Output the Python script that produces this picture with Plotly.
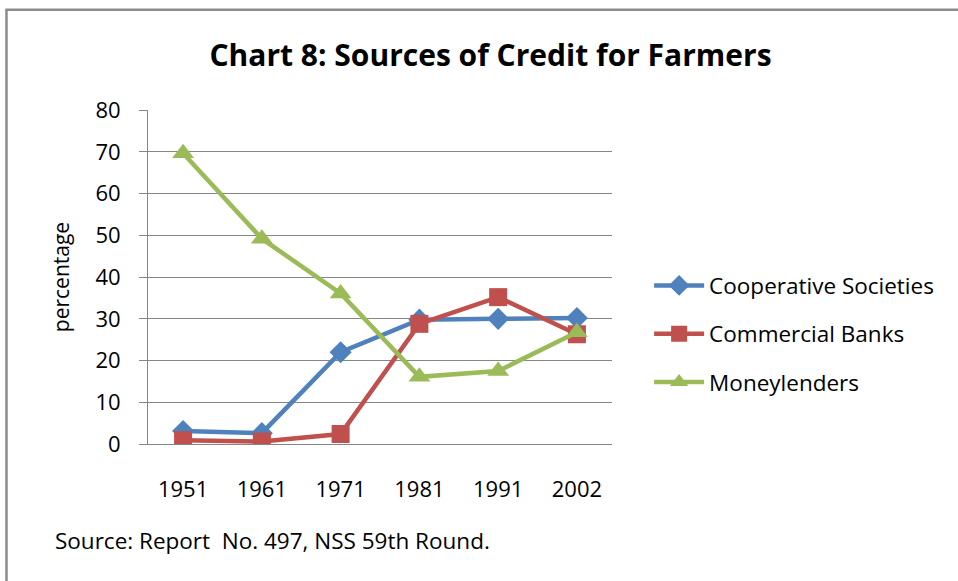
import plotly.graph_objects as go

# data
years = ["1951", "1961", "1971", "1981", "1991", "2002"]
cooperative = [3.1, 2.6, 22.0, 29.8, 30.0, 30.2]
commercial = [0.9, 0.6, 2.4, 28.8, 35.2, 26.3]
moneylenders = [69.7, 49.2, 36.1, 16.1, 17.5, 26.8]

FONT = "Open Sans, Lato, Noto Sans, sans-serif"

series = [
    ("Cooperative Societies", cooperative, "#4F81BD", "diamond", 17),
    ("Commercial Banks", commercial, "#C0504D", "square", 18),
    ("Moneylenders", moneylenders, "#9BBB59", "triangle-up", 19),
]

fig = go.Figure()
for i, (name, vals, color, symbol, size) in enumerate(series):
    fig.add_trace(go.Scatter(
        x=years, y=vals, name=name, mode="lines+markers",
        legendgroup=f"g{i}",
        line=dict(color=color, width=4.5),
        marker=dict(symbol=symbol, size=size, color=color),
    ))

fig.update_layout(
    width=958, height=581,
    margin=dict(l=148, r=346, t=110, b=137),
    paper_bgcolor="white", plot_bgcolor="white",
    font=dict(family=FONT, size=21, color="#000000"),
    title=dict(text="<b>Chart 8: Sources of Credit for Farmers</b>",
               x=0.512, xanchor="center", y=0.905, yanchor="middle",
               font=dict(size=30, family=FONT)),
    showlegend=True,
    legend=dict(x=1.08, xanchor="left", y=0.33, yanchor="middle",
                font=dict(size=22.5, family=FONT), tracegroupgap=16,
                bgcolor="rgba(0,0,0,0)", itemwidth=50),
    xaxis=dict(type="category", showgrid=False, showline=True,
               linecolor="#868686", linewidth=1, ticks="",
               tickfont=dict(size=22), ticklabelstandoff=26),
    yaxis=dict(range=[0, 80.05], tickvals=[0, 10, 20, 30, 40, 50, 60, 70, 80],
               showgrid=True, gridcolor="#868686",
               gridwidth=1, showline=True, linecolor="#868686", linewidth=1,
               ticks="outside", ticklen=8, tickcolor="#868686",
               tickfont=dict(size=22), zeroline=False, ticklabelstandoff=14,
               title=dict(text="percentage", font=dict(size=21), standoff=20)),
    annotations=[dict(
        text="Source: Report  No. 497, NSS 59th Round.",
        xref="paper", yref="paper", x=-0.205, y=-0.29,
        xanchor="left", yanchor="middle", showarrow=False,
        font=dict(size=22.5, family=FONT),
    )],
    shapes=[dict(type="rect", xref="paper", yref="paper",
                 x0=-0.305, x1=1.8, y0=-0.7, y1=1.3,
                 line=dict(color="#8C8C8C", width=2.5))],
)

# drop the default page margin so the figure sits at the window origin
fig.write_html("out.html", config={"displayModeBar": False},
               post_script="document.body.style.margin='0';")
